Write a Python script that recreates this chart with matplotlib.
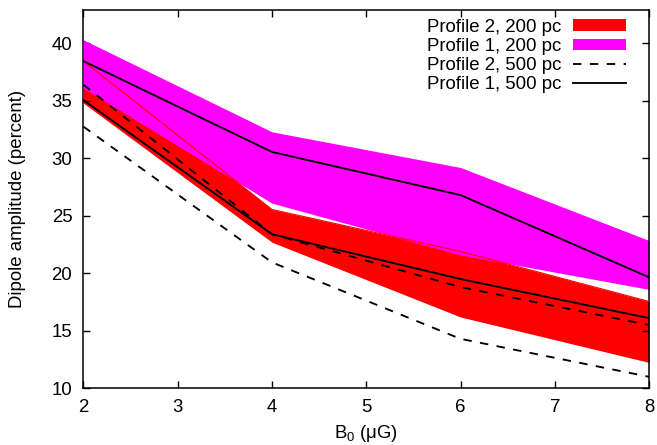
import matplotlib
matplotlib.use('Agg')
import matplotlib.pyplot as plt
import matplotlib.patches as mpatches
from matplotlib.lines import Line2D

plt.rcParams['font.family'] = ['Liberation Sans', 'DejaVu Sans']
plt.rcParams['font.size'] = 13.4
plt.rcParams['mathtext.fontset'] = 'custom'
plt.rcParams['mathtext.rm'] = 'Liberation Sans'
plt.rcParams['mathtext.it'] = 'Liberation Sans:italic'
plt.rcParams['axes.linewidth'] = 1.1

# magnetic field values (muG)
b0 = [2, 4, 6, 8]

# 200 pc bands (upper / lower edges)
p1_200_hi = [40.3, 32.3, 29.2, 22.85]
p1_200_lo = [36.1, 26.1, 21.6, 18.6]
p2_200_hi = [38.45, 25.55, 21.9, 17.55]
p2_200_lo = [34.8, 22.7, 16.2, 12.25]

# 500 pc ranges, drawn as lines
p1_500_hi = [38.45, 30.55, 26.8, 19.65]
p1_500_lo = [35.05, 23.4, 19.5, 16.1]
p2_500_hi = [36.4, 23.4, 18.8, 15.5]
p2_500_lo = [32.75, 20.95, 14.3, 11.0]

red = '#ff0000'
magenta = '#ff00ff'

fig = plt.figure(figsize=(6.57, 4.45), dpi=100)
ax = fig.add_axes([0.127, 0.1274, 0.861, 0.8503])

# bands: red first, magenta on top
ax.fill_between(b0, p2_200_lo, p2_200_hi, color=red, lw=0, zorder=1)
ax.fill_between(b0, p1_200_lo, p1_200_hi, color=magenta, lw=0, zorder=2)
# edge of red polygon shows through the magenta one
ax.plot(b0, p2_200_hi, color=red, lw=0.8, zorder=3)

dash = (0, (4.5, 4.5))
lw = 1.35
ax.plot(b0, p2_500_hi, color='black', lw=lw, ls=dash, zorder=4)
ax.plot(b0, p2_500_lo, color='black', lw=lw, ls=dash, zorder=4)
ax.plot(b0, p1_500_hi, color='black', lw=lw, zorder=4)
ax.plot(b0, p1_500_lo, color='black', lw=lw, zorder=4)

ax.set_xlim(2, 8)
ax.set_ylim(10, 42.9)
ax.set_xticks(range(2, 9))
ax.set_yticks(range(10, 41, 5))
ax.tick_params(direction='in', top=True, right=True, length=5, width=1.0, pad=8)

ax.set_xlabel(r'B$_0$ (μG)')
ax.set_ylabel('Dipole amplitude (percent)')
ax.xaxis.set_label_coords(0.5, -0.092)
ax.yaxis.set_label_coords(-0.101, 0.5)

handles = [mpatches.Patch(color=red, lw=0),
           mpatches.Patch(color=magenta, lw=0),
           Line2D([], [], color='black', lw=lw, ls=dash),
           Line2D([], [], color='black', lw=lw)]
labels = ['Profile 2, 200 pc', 'Profile 1, 200 pc',
          'Profile 2, 500 pc', 'Profile 1, 500 pc']
ax.legend(handles, labels, loc='upper right', bbox_to_anchor=(0.959, 0.977),
          frameon=False, markerfirst=False, borderpad=0, borderaxespad=0,
          handlelength=2.85, handleheight=0.55, handletextpad=0.6,
          labelspacing=0.12)

fig.savefig('out.png', dpi=100)
